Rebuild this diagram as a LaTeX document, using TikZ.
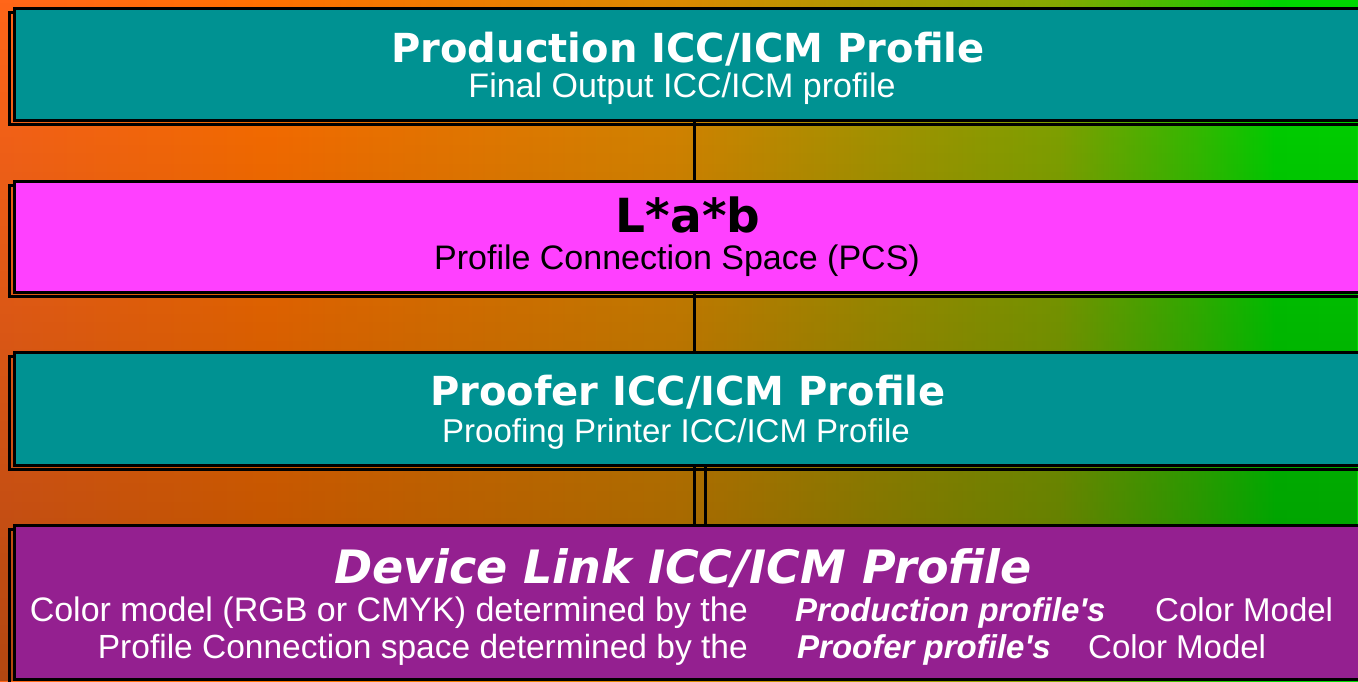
\documentclass[tikz,border=0pt]{standalone}
\usepackage{fontspec}
\setmainfont{Liberation Sans}
\newfontfamily\verdanafont{DejaVu Sans}
\usepackage{tikz}
\usetikzlibrary{fadings}
\definecolor{profteal}{RGB}{0,146,146}
\definecolor{pcsmagenta}{RGB}{255,64,255}
\definecolor{linkpurple}{RGB}{148,32,144}
% stops between 25bp and 75bp span the filled rectangle
\pgfdeclarehorizontalshading{washbg}{100bp}{rgb(0bp)=(1,0.4,0.1); rgb(25bp)=(1,0.4,0.1); rgb(35bp)=(1,0.44,0); rgb(50bp)=(0.86,0.54,0); rgb(57bp)=(0.68,0.6,0); rgb(64bp)=(0.52,0.66,0); rgb(69bp)=(0.22,0.76,0); rgb(72bp)=(0,0.84,0); rgb(75bp)=(0,0.85,0); rgb(100bp)=(0,0.85,0)}
\pgfdeclarelayer{bglayer}
\pgfdeclarelayer{nodelayer}
\pgfdeclarelayer{edgelayer}
\pgfsetlayers{bglayer,edgelayer,nodelayer,main}
\tikzset{box/.style={shape=rectangle, draw=black, line width=3pt, minimum width=1360pt, inner sep=0pt,
preaction={draw=black, line width=3pt, transform canvas={xshift=-5pt, yshift=-4pt}}}}
\tikzset{head/.style={inner sep=0pt, anchor=base, text=white,
font=\verdanafont\bfseries\fontsize{40}{44}\selectfont}}
\tikzset{sub/.style={inner sep=0pt, anchor=base, text=white,
font=\fontsize{34}{37}\selectfont}}
\tikzstyle{wire}=[draw=black, line width=3pt]

\begin{document}
\begin{tikzpicture}[x=1pt, y=-1pt]
	\useasboundingbox (0, 0) rectangle (1358, 681);
	\begin{pgfonlayer}{bglayer}
		\shade [shading=washbg] (0, 0) rectangle (1358, 681);
		\fill [black, path fading=north, fill opacity=0.3] (0, 0) rectangle (1358, 681);
	\end{pgfonlayer}
	\begin{pgfonlayer}{nodelayer}
		\node [style=box, fill=profteal, minimum height=112pt] (0) at (694, 64) {};
		\node [style=box, fill=pcsmagenta, minimum height=111pt] (1) at (694, 236.5) {};
		\node [style=box, fill=profteal, minimum height=113pt] (2) at (694, 408.5) {};
		\node [style=box, fill=linkpurple, minimum height=154pt] (3) at (694, 602) {};
	\end{pgfonlayer}
	\begin{pgfonlayer}{edgelayer}
		\draw [style=wire] (0.south) to (1.north);
		\draw [style=wire] (1.south) to (2.north);
		\draw [style=wire] (2.south) to (3.north);
		\draw [style=wire] ([xshift=11pt]2.south) to ([xshift=11pt]3.north);
	\end{pgfonlayer}
	\node [style=head] (4) at (688, 62) {Production ICC/ICM Profile};
	\node [style=sub] (5) at (682, 97) {Final Output ICC/ICM profile};
	\node [style=head, text=black, font=\verdanafont\bfseries\fontsize{47}{51}\selectfont] (6) at (688, 232) {L*a*b};
	\node [style=sub, text=black] (7) at (677, 269) {Profile Connection Space (PCS)};
	\node [style=head] (8) at (688, 405) {Proofer ICC/ICM Profile};
	\node [style=sub, font=\fontsize{33}{36}\selectfont] (9) at (676, 442) {Proofing Printer ICC/ICM Profile};
	\node [style=head, font=\verdanafont\bfseries\itshape\fontsize{46}{50}\selectfont] (10) at (683, 583) {Device Link ICC/ICM Profile};
	\node [style=sub, anchor=base east] (11) at (748, 621) {Color model (RGB or CMYK) determined by the};
	\node [style=sub, anchor=base west, font=\bfseries\itshape\fontsize{33}{36}\selectfont] (12) at (795, 621) {Production profile\textquotesingle s};
	\node [style=sub, anchor=base west, font=\fontsize{33}{36}\selectfont] (13) at (1155, 621) {Color Model};
	\node [style=sub, anchor=base east, font=\fontsize{33.5}{36}\selectfont] (14) at (748, 658) {Profile Connection space determined by the};
	\node [style=sub, anchor=base west, font=\bfseries\itshape\fontsize{33}{36}\selectfont] (15) at (797, 658) {Proofer profile\textquotesingle s};
	\node [style=sub, anchor=base west, font=\fontsize{33}{36}\selectfont] (16) at (1088, 658) {Color Model};
\end{tikzpicture}
\end{document}
